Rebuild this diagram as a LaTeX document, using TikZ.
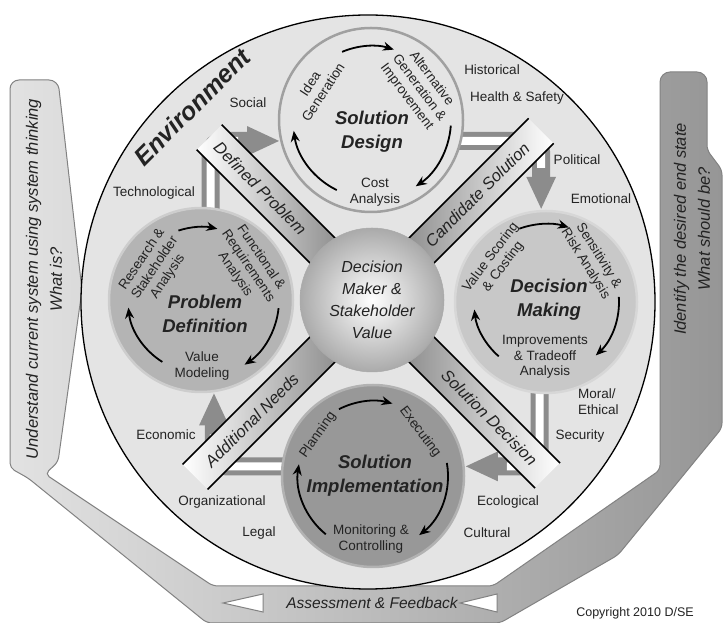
\documentclass[tikz,border=0pt]{standalone}
\usepackage{fontspec}
\setmainfont{Liberation Sans}
\usetikzlibrary{calc,arrows.meta}
\pgfdeclarelayer{back}\pgfdeclarelayer{mid}\pgfsetlayers{back,mid,main}
\definecolor{envfill}{RGB}{228,228,228}
\definecolor{txt}{RGB}{35,35,35}
\definecolor{sdfill}{RGB}{228,228,228}
\definecolor{sdedge}{RGB}{160,160,160}
\definecolor{pdfill}{RGB}{180,180,180}
\definecolor{pdedge}{RGB}{205,205,205}
\definecolor{dmfill}{RGB}{200,200,200}
\definecolor{dmedge}{RGB}{215,215,215}
\definecolor{sifill}{RGB}{152,152,152}
\definecolor{siedge}{RGB}{178,178,178}
\definecolor{flowgray}{RGB}{140,140,140}
\definecolor{bargray}{RGB}{135,135,135}
\definecolor{bandlight}{RGB}{226,226,226}
\definecolor{banddark}{RGB}{150,150,150}
\definecolor{bandedge}{RGB}{130,130,130}
\definecolor{cgray}{RGB}{170,170,170}
\begin{document}
\begin{tikzpicture}[x=1pt,y=1pt,
  envlab/.style={font=\fontsize{13.5}{15.5}\selectfont, text=txt, inner sep=0pt},
  circlab/.style={font=\fontsize{13.5}{15.5}\selectfont, text=txt, align=center, inner sep=0pt},
  ttl/.style={font=\fontsize{18.5}{24}\selectfont\bfseries\itshape, text=txt, align=center, inner sep=0pt},
  barlab/.style={font=\fontsize{16.5}{18}\selectfont\itshape, text=txt, inner sep=0pt},
  bandlab/.style={font=\fontsize{16.5}{24}\selectfont\itshape, text=txt, align=center, inner sep=0pt},
  phase/.style={circle, minimum size=184pt, line width=2.5pt, inner sep=0pt},
  cyc/.style={line width=1.8pt, draw=black, -{Stealth[length=11pt,width=9pt]}},
  barbox/.style={rectangle, minimum height=35pt, inner sep=0pt},
  barline/.style={line width=1.5pt, draw=black},
  flow/.style={line width=18pt, draw=flowgray, rounded corners=12pt, -{Triangle[length=33pt,width=27pt]}},
  flowin/.style={line width=8pt, draw=white, rounded corners=12pt, shorten >=42pt},
]
\useasboundingbox (0,0) rectangle (725,623);

% outer band
\begin{pgfonlayer}{back}
\fill[white] (0,0) rectangle (725,623);
\shadedraw[left color=bandlight, right color=banddark, draw=bandedge, line width=1pt, rounded corners=5pt]
 (10,520) [rounded corners=9pt] -- (10,543) -- (58,543) [rounded corners=5pt] -- (82,333) -- (58,161) -- (45,149)
 -- (213,37) -- (493,37) -- (660,153) [rounded corners=10pt] -- (660,551)
 -- (707,551) [rounded corners=5pt] -- (707,473) -- (722,453) -- (722,195) -- (618,68) -- (500,0) -- (207,0)
 -- (28,145) -- (10,155) -- cycle;
\node[circle, minimum size=574pt, inner sep=0pt, fill=envfill, draw=black, line width=1.3pt] (env) at (368,321) {};
\end{pgfonlayer}

% phase circles
\node[phase, fill=sdfill, draw=sdedge] (sd) at (371,503) {};
\node[phase, fill=pdfill, draw=pdedge] (pd) at (201,323) {};
\node[phase, fill=dmfill, draw=dmedge, minimum size=182pt] (dm) at (546,321) {};
\node[phase, fill=sifill, draw=siedge, minimum size=182pt] (si) at (373,147) {};
\node[circle, minimum size=144pt, inner sep=0pt, inner color=white, outer color=cgray, draw=cgray, line width=0.5pt] (cc) at (372,323) {};

% flows and bars
\begin{pgfonlayer}{mid}
\draw[flow] ($(pd.84)+(0,-14)$) |- (sd.193);
\draw[flowin] ($(pd.84)+(0,-14)$) |- (sd.193);
\draw[flow] ($(sd.-13)+(-14,0)$) -| (dm.93);
\draw[flowin] ($(sd.-13)+(-14,0)$) -| (dm.93);
\draw[flow] ($(dm.-94)+(0,14)$) |- (si.6);
\draw[flowin] ($(dm.-94)+(0,14)$) |- (si.6);
\draw[flow] ($(si.174)+(14,0)$) -| (pd.-82);
\draw[flowin] ($(si.174)+(14,0)$) -| (pd.-82);

\node[barbox, minimum width=180pt, rotate=-45, left color=white, right color=bargray] (bdp) at ($(cc)+(135:140)$) {};
\node[barbox, minimum width=189pt, rotate=45, left color=bargray, right color=white] (bcs) at ($(cc)+(45:144.5)$) {};
\node[barbox, minimum width=198pt, rotate=-45, left color=bargray, right color=white] (bsd) at ($(cc)+(-45:149)$) {};
\node[barbox, minimum width=200pt, rotate=45, left color=white, right color=bargray] (ban) at ($(cc)+(225:150)$) {};
\foreach \b in {bdp,bcs,bsd,ban}{
  \draw[barline] (\b.north west) -- (\b.north east) (\b.south west) -- (\b.south east);
}
\end{pgfonlayer}

% bar labels
\node[barlab, rotate=-45] (ldp) at ($(cc)+(135:158)$) {Defined Problem};
\node[barlab, rotate=45] (lcs) at ($(cc)+(45:149)$) {Candidate Solution};
\node[barlab, rotate=-45] (lsd) at ($(cc)+(-45:166)$) {Solution Decision};
\node[barlab, rotate=45] (lan) at ($(cc)+(225:170)$) {Additional Needs};

% center text
\node[font=\fontsize{16}{22}\selectfont\itshape, text=txt, align=center] (ct) at (cc) {Decision\\Maker \&\\Stakeholder\\Value};

% cycle arrows
\draw[cyc] ($(sd)+(113:74)$) arc[start angle=113, end angle=72, radius=74];
\draw[cyc] ($(sd)+(-4:80)$) arc[start angle=-4, end angle=-56, radius=80];
\draw[cyc] ($(sd)+(244:78)$) arc[start angle=244, end angle=188, radius=78];
\draw[cyc] ($(pd)+(108:73)$) arc[start angle=108, end angle=77, radius=73];
\draw[cyc] ($(pd)+(-6:78)$) arc[start angle=-6, end angle=-56, radius=78];
\draw[cyc] ($(pd)+(238:73)$) arc[start angle=238, end angle=186, radius=73];
\draw[cyc] ($(dm)+(110:78)$) arc[start angle=110, end angle=73, radius=78];
\draw[cyc] ($(dm)+(4:73)$) arc[start angle=4, end angle=-47, radius=73];
\draw[cyc] ($(dm)+(229:72)$) arc[start angle=229, end angle=186, radius=72];
\draw[cyc] ($(si)+(117:75)$) arc[start angle=117, end angle=75, radius=75];
\draw[cyc] ($(si)+(10:75)$) arc[start angle=10, end angle=-52, radius=75];
\draw[cyc] ($(si)+(231:75)$) arc[start angle=231, end angle=171, radius=75];

% circle titles and labels
\node[ttl] (tsd) at (372,491) {Solution\\Design};
\node[circlab, rotate=57] (l1) at (316.5,535) {Idea\\Generation};
\node[circlab, rotate=-53] (l2) at (419,535) {Alternative\\Generation \&\\Improvement};
\node[circlab] (l3) at (375,431) {Cost\\Analysis};

\node[ttl] (tpd) at (205,309) {Problem\\Definition};
\node[circlab, rotate=56] (l4) at (155,355) {Research \&\\Stakeholder\\Analysis};
\node[circlab, rotate=-56] (l5) at (248,357) {Functional \&\\Requirements\\Analysis};
\node[circlab] (l6) at (202,257) {Value\\Modeling};

\node[ttl] (tdm) at (549,323) {Decision\\Making};
\node[circlab, rotate=53] (l7) at (497,361) {Value Scoring\\\& Costing};
\node[circlab, rotate=-58] (l8) at (592,363) {Sensitivity \&\\Risk Analysis};
\node[circlab] (l9) at (545,266) {Improvements\\\& Tradeoff\\Analysis};

\node[ttl] (tsi) at (375,147) {Solution\\Implementation};
\node[circlab, rotate=55] (l10) at (318,188) {Planning};
\node[circlab, rotate=-53] (l11) at (420,191) {Executing};
\node[circlab] (l12) at (371,84) {Monitoring \&\\Controlling};

% environment labels
\node[font=\fontsize{25}{28}\selectfont\bfseries\itshape, text=txt, rotate=45] (envt) at (192,516) {Environment};
\node[envlab] (e1) at (248,520) {Social};
\node[envlab] (e2) at (492,553) {Historical};
\node[envlab] (e3) at (517,525) {Health \& Safety};
\node[envlab] (e4) at (154,430) {Technological};
\node[envlab] (e5) at (577,463) {Political};
\node[envlab] (e6) at (601,424) {Emotional};
\node[envlab, align=left, anchor=west] (e7) at (578,221.5) {Moral/\\Ethical};
\node[envlab] (e8) at (580,187) {Security};
\node[envlab] (e9) at (166,188) {Economic};
\node[envlab] (e10) at (222,121) {Organizational};
\node[envlab] (e11) at (508,121) {Ecological};
\node[envlab] (e12) at (259,90) {Legal};
\node[envlab] (e13) at (487,90) {Cultural};

% band labels
\node[bandlab, rotate=90] (bl) at (44,344) {Understand current system using system thinking\\What is?};
\node[bandlab, rotate=90] (br) at (692,394) {Identify the desired end state\\What should be?};
\node[bandlab, font=\fontsize{15.5}{18}\selectfont\itshape] (bb) at (372,20) {Assessment \& Feedback};
\draw[draw=bandedge, fill=white, line width=1pt] (223,20) -- (263,29) -- (263,11) -- cycle;
\draw[draw=bandedge, fill=white, line width=1pt] (460,20) -- (497,29) -- (497,11) -- cycle;
\node[font=\fontsize{12.5}{14}\selectfont, text=txt, inner sep=0pt] (copy) at (635,10) {Copyright 2010 D/SE};
\end{tikzpicture}
\end{document}
